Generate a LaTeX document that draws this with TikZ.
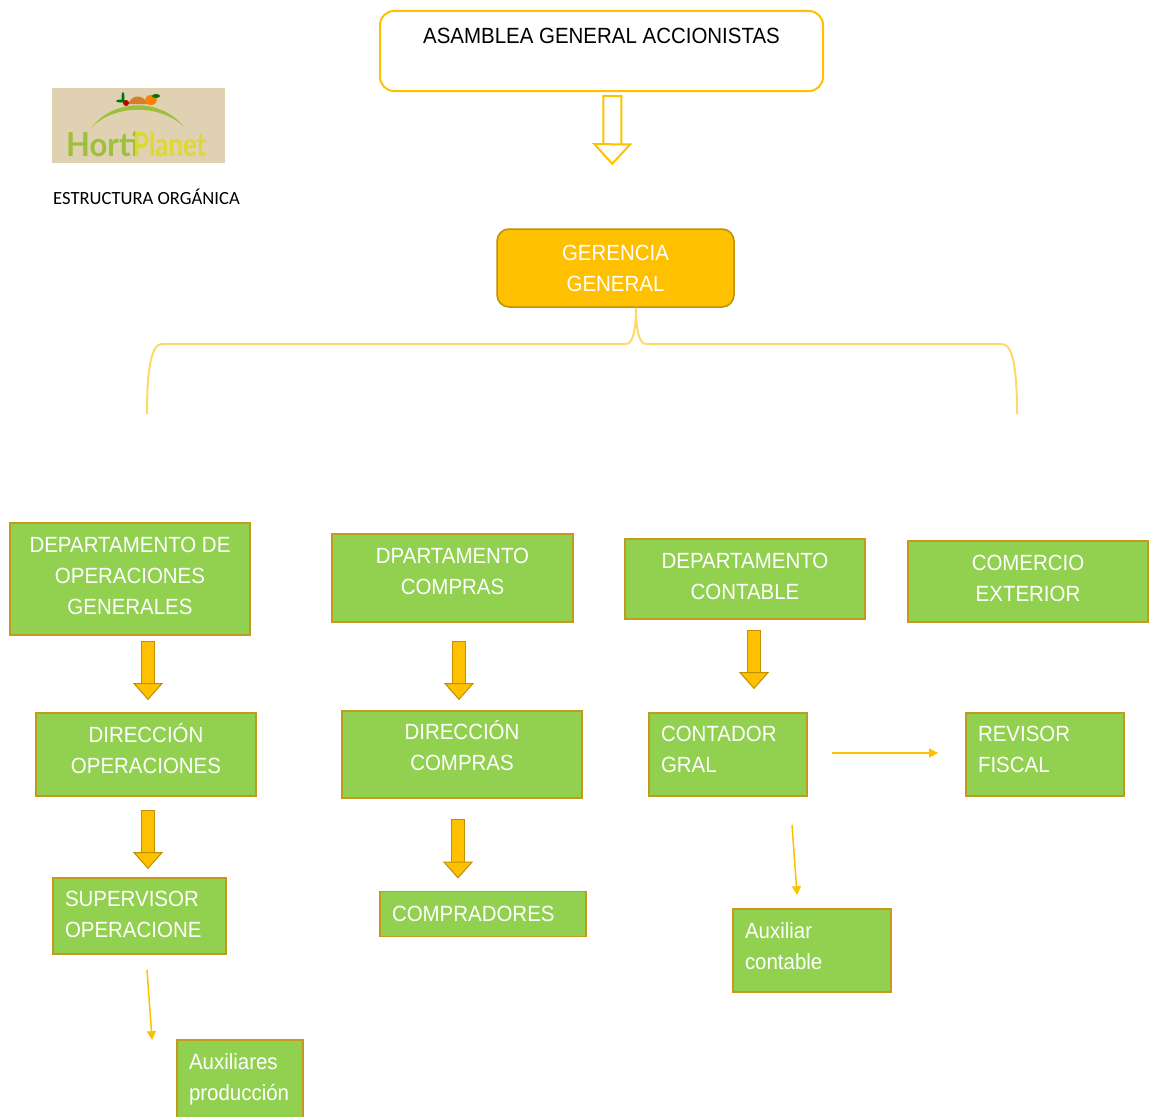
\documentclass[tikz,border=0pt]{standalone}
\usepackage{fontspec}
\setmainfont[FakeStretch=0.93]{Liberation Sans}
\newfontfamily\calibrifont{Carlito}
\newfontfamily\logofont{Lato}
\usetikzlibrary{arrows.meta}
\definecolor{accent}{HTML}{FFC000}
\definecolor{accentdark}{HTML}{BF9000}
\definecolor{bracecol}{HTML}{FFD966}
\definecolor{boxgreen}{HTML}{92D050}
\definecolor{boxedge}{HTML}{C49A1C}
\definecolor{logotan}{HTML}{E0D1B2}
\definecolor{logogreen}{HTML}{9DBF3A}
\definecolor{logoyellow}{HTML}{DDD92E}
\tikzset{
  greenbox/.style={draw=boxedge, fill=boxgreen, line width=1.8pt, text=white, inner sep=0pt, align=center},
  leftbox/.style={greenbox, align=left, inner xsep=12pt, inner ysep=0pt},
  blockarrow/.style={draw=accentdark, line width=1pt, double=accent, double distance=12pt,
    {Bar[width=14pt,line width=1pt]}-{Triangle[length=17pt,width=30pt,fill=accent,line width=1pt]}},
  hollowarrow/.style={draw=accent, line width=2pt, double=white, double distance=16pt,
    {Bar[width=20pt,line width=2pt]}-{Triangle[length=22pt,width=40pt,fill=white,line width=2pt]}},
  thinarrow/.style={draw=accent, line width=1.5pt, -{Triangle[length=9pt,width=9pt]}},
  bracket/.style={draw=bracecol, line width=2pt},
  logotext/.style={anchor=west, inner sep=0pt, font=\logofont\bfseries\fontsize{33}{33}\selectfont}
}
\begin{document}
\begin{tikzpicture}[x=1pt,y=-1pt,font=\fontsize{22}{31}\selectfont]
\useasboundingbox (0,0) rectangle (1150,1116);

% logo
\fill[logotan] (52,88) rectangle (225,163);
\fill[logogreen] (92,127) .. controls (115,98) and (161,98) .. (184,127) .. controls (161,104) and (115,104) .. cycle;
\fill[brown!70!orange] (128,104) .. controls (132,94) and (144,94) .. (147,104) -- cycle;
\fill[orange] (151,100) ellipse (6 and 5);
\fill[red!75!black] (126,103) circle (3);
\fill[green!45!black] (121,101) ellipse (5 and 1.5);
\fill[green!45!black] (123,97) ellipse (1.5 and 5);
\fill[green!45!black] (156,96) ellipse (4 and 2);
\node[logotext, text=logogreen, xscale=0.94] (logoHorti) at (66,144) {Horti};
\node[logotext, text=logoyellow, xscale=0.78] (logoPlanet) at (133,144) {Planet};
\node[anchor=west, inner sep=0pt, font=\calibrifont\fontsize{18.6}{22}\selectfont] (estructura) at (53,197) {ESTRUCTURA ORGÁNICA};

% top of the chart
\node[draw=accent, line width=2pt, rounded corners=14pt, fill=white, minimum width=443pt, minimum height=80pt, align=center] (asamblea) at (601.5,51) {ASAMBLEA GENERAL ACCIONISTAS\\~};
\node[draw=accentdark, line width=1.5pt, rounded corners=12pt, fill=accent, text=white, minimum width=237pt, minimum height=78pt, align=center] (gerencia) at (615.5,268) {GERENCIA\\GENERAL};
\draw[hollowarrow, shorten <=3pt, shorten >=63pt] ([xshift=11pt]asamblea.south) -- ([xshift=-3.5pt]gerencia.north);

\coordinate (braceL) at (147,414);
\coordinate (braceR) at (1017,414);
\draw[bracket] ([xshift=20.5pt]gerencia.south) .. controls (636,325) and (634,344) .. (626,344) -- (162,344) .. controls (150,344) and (147,375) .. (braceL);
\draw[bracket] ([xshift=20.5pt]gerencia.south) .. controls (636,325) and (638,344) .. (646,344) -- (1002,344) .. controls (1014,344) and (1017,375) .. (braceR);

% departments
\node[greenbox, minimum width=240pt, minimum height=112pt] (dptoOper) at (130,579) {DEPARTAMENTO DE\\OPERACIONES\\GENERALES\\[-25pt]};
\node[greenbox, minimum width=241pt, minimum height=88pt] (dptoCompras) at (452.5,578) {DPARTAMENTO\\COMPRAS\\[-18pt]};
\node[greenbox, minimum width=240pt, minimum height=80pt] (dptoContable) at (745,579) {DEPARTAMENTO\\CONTABLE\\[-26pt]};
\node[greenbox, minimum width=240pt, minimum height=81pt] (comercio) at (1028,581.5) {COMERCIO\\EXTERIOR\\[-25pt]};

% second row
\node[greenbox, minimum width=220pt, minimum height=83pt] (dirOper) at (146,754.5) {DIRECCIÓN\\OPERACIONES\\[-19pt]};
\node[greenbox, minimum width=240pt, minimum height=87pt] (dirCompras) at (462,754.5) {DIRECCIÓN\\COMPRAS\\[-13pt]};
\node[leftbox, text width=134pt, minimum height=83pt] (contador) at (728,754.5) {CONTADOR\\GRAL\\[-21pt]~};
\node[leftbox, text width=134pt, minimum height=83pt] (revisor) at (1045,754.5) {REVISOR\\FISCAL\\[-21pt]~};

% third row
\node[leftbox, text width=149pt, minimum height=76pt] (supervisor) at (139.5,916) {SUPERVISOR\\OPERACIONE\\[-28pt]~};
\node[leftbox, text width=182pt, minimum height=45pt] (compradores) at (483,914) {COMPRADORES};
\node[leftbox, text width=134pt, minimum height=83pt] (auxContable) at (812,950.5) {Auxiliar\\contable\\[-23pt]~};
\node[leftbox, text width=102pt, minimum height=84pt] (auxProduccion) at (240,1082) {Auxiliares\\producción\\[-22pt]~};

% arrows
\draw[blockarrow, shorten <=5pt, shorten >=12pt] ([xshift=18pt]dptoOper.south) -- ([xshift=2pt]dirOper.north);
\draw[blockarrow, shorten <=13pt, shorten >=8pt] ([xshift=2pt]dirOper.south) -- ([xshift=8.5pt]supervisor.north);
\draw[blockarrow, shorten <=18pt, shorten >=10pt] ([xshift=6.5pt]dptoCompras.south) -- ([xshift=-3pt]dirCompras.north);
\draw[blockarrow, shorten <=20pt, shorten >=12pt] ([xshift=-4pt]dirCompras.south) -- ([xshift=-25pt]compradores.north);
\draw[blockarrow, shorten <=10pt, shorten >=23pt] ([xshift=9pt]dptoContable.south) -- ([xshift=26pt]contador.north);
\draw[thinarrow, shorten <=24pt, shorten >=27pt] ([yshift=1.5pt]contador.east) -- ([yshift=1.5pt]revisor.west);
\draw[thinarrow] ([xshift=64pt,yshift=-28pt]contador.south) -- ([xshift=65pt,yshift=13pt]auxContable.north west);
\draw[thinarrow] ([xshift=7.5pt,yshift=-15pt]supervisor.south) -- ([xshift=-24pt,yshift=-1pt]auxProduccion.north west);
\end{tikzpicture}
\end{document}
